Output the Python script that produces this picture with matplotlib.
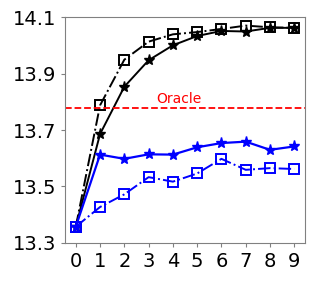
import numpy as np
import matplotlib
matplotlib.use("Agg")
import matplotlib.pyplot as plt

steps = list(range(10))
black_square = [13.357, 13.788, 13.950, 14.014, 14.040, 14.048, 14.059, 14.071, 14.065, 14.063]
black_star = [13.357, 13.686, 13.854, 13.948, 14.001, 14.034, 14.052, 14.050, 14.063, 14.063]
blue_star = [13.357, 13.613, 13.598, 13.614, 13.613, 13.639, 13.654, 13.659, 13.630, 13.642]
blue_square = [13.357, 13.427, 13.472, 13.533, 13.517, 13.546, 13.598, 13.559, 13.565, 13.562]
oracle = 13.779
yticks = [13.3, 13.5, 13.7, 13.9, 14.1]


def main():
    fig = plt.figure(figsize=(3.16, 2.81), dpi=100)
    ax = fig.add_axes([0.206, 0.136, 0.759, 0.802])

    ax.plot(steps, black_square, color="k", linestyle="-.", marker="s",
            markerfacecolor="none", markersize=6.5, markeredgewidth=1.4, linewidth=1.4)
    ax.plot(steps, black_star, color="k", linestyle="-", marker="*",
            markersize=8, linewidth=1.4)
    ax.plot(steps, blue_star, color="b", linestyle="-", marker="*",
            markersize=8, linewidth=1.6)
    ax.plot(steps, blue_square, color="b", linestyle="-.", marker="s",
            markerfacecolor="none", markersize=6.5, markeredgewidth=1.4, linewidth=1.4)

    ax.axhline(oracle, color="r", linestyle="--", linewidth=1.3)
    ax.text(4.25, oracle + 0.008, "Oracle", color="r", fontsize=10,
            ha="center", va="bottom")

    ax.set_xlim(-0.44, 9.44)
    ax.set_ylim(13.3, 14.1)
    ax.set_xticks(steps)
    ax.set_yticks(yticks)
    ax.set_yticklabels([f"{v:.1f}" for v in yticks])
    ax.tick_params(labelsize=14, color="gray", length=3)
    for sp in ax.spines.values():
        sp.set_color("gray")

    fig.savefig("out.png", dpi=100)


if __name__ == "__main__":
    main()
